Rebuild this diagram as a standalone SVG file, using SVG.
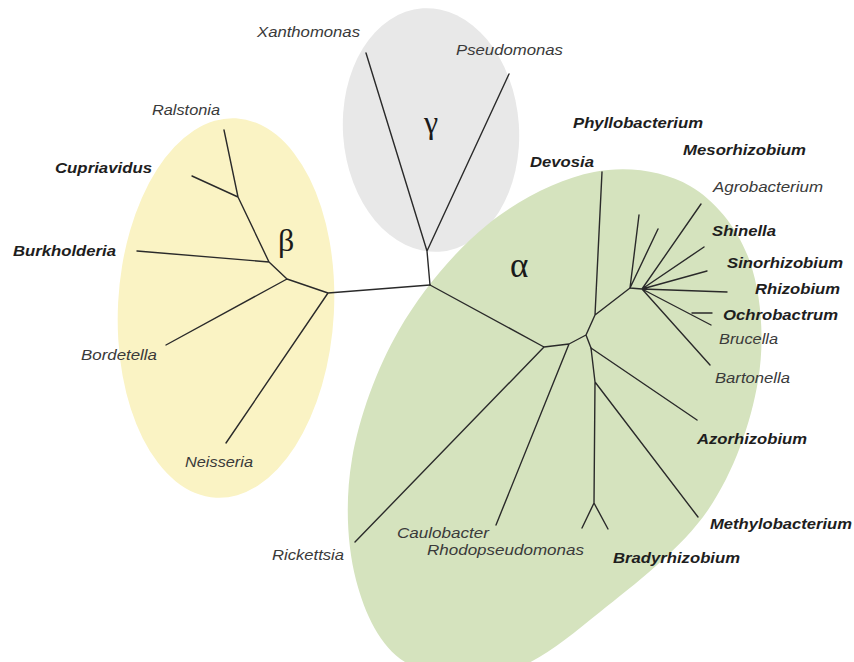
<svg xmlns="http://www.w3.org/2000/svg" width="854" height="662" viewBox="0 0 854 662">
<style>
.lbl{font-family:"Liberation Sans",Arial,sans-serif;font-size:14px;font-style:italic;fill:#3a3a3a}
.b{font-weight:bold;fill:#1e1e1e}
.gk{font-family:"Liberation Serif","Times New Roman",serif;font-size:32px;fill:#1a1a1a}
.edge{fill:none;stroke:#2a2a2a;stroke-width:1.4;stroke-linecap:round;stroke-linejoin:round}
</style>
<rect width="854" height="662" fill="#ffffff"/>
<g id="clades">
<ellipse id="beta-clade" cx="226" cy="308" rx="108" ry="190" transform="rotate(3 226 308)" fill="#FAF3C4"/>
<ellipse id="gamma-clade" cx="431" cy="130" rx="88" ry="122" transform="rotate(-4 431 130)" fill="#E8E8E8"/>
<path id="alpha-clade" fill="#D5E3BE" d="M690,186 C716,201 738.7,229.5 750,262 C761.3,294.5 765,339.7 758,381 C751,422.3 734.3,471.5 708,510 C681.7,548.5 633.8,585 600,612 C566.2,639 537.5,663.7 505,672 C472.5,680.3 429.8,677.3 405,662 C380.2,646.7 364.8,613.8 356,580 C347.2,546.2 344.8,500.7 352,459 C359.2,417.3 376.5,369 399,330 C421.5,291 454.5,251.3 487,225 C519.5,198.7 560.2,178.5 594,172 C627.8,165.5 664,171 690,186 Z"/>
</g>
<g id="connectors" class="edge">
<path d="M430,285 L427,251 M427,251 L366,53 M427,251 L509,74"/>
<path d="M430,285 L328,293 M328,293 L287,279 M328,293 L226,443 M287,279 L269,262 M287,279 L166,345 M269,262 L137,251 M269,262 L238,197 M238,197 L224,130 M238,197 L192,176"/>
<path d="M430,285 L544,347 M544,347 L355,542 M544,347 L569,344 M569,344 L496,525 M569,344 L586,335 M586,335 L595,315 M586,335 L591,348 M595,315 L602,172 M595,315 L630,288"/>
<path d="M630,288 L639,215 M630,288 L658,229 M630,288 L642,289 M642,289 L701,204 M642,289 L704,247 M642,289 L707,271 M642,289 L727,292 M642,289 L711,325 M692,313 L712,313 M642,289 L710,365"/>
<path d="M591,348 L697,420 M591,348 L595,382 M595,382 L698,517 M595,382 L594,503 M594,503 L582,528 M594,503 L608,529"/>
</g>
<g id="greek">
<text id="gamma" class="gk" x="424" y="133">γ</text>
<text id="beta" class="gk" x="278" y="251">β</text>
<text id="alpha" class="gk" x="510" y="277" style="font-size:35px">α</text>
</g>
<g id="labels">
<g id="n-xanthomonas"><text class="lbl" x="257" y="37" textLength="103" lengthAdjust="spacingAndGlyphs">Xanthomonas</text></g>
<g id="n-pseudomonas"><text class="lbl" x="456" y="55" textLength="107" lengthAdjust="spacingAndGlyphs">Pseudomonas</text></g>
<g id="n-ralstonia"><text class="lbl" x="152" y="115" textLength="68" lengthAdjust="spacingAndGlyphs">Ralstonia</text></g>
<g id="n-cupriavidus"><text class="lbl b" x="55" y="173" textLength="97" lengthAdjust="spacingAndGlyphs">Cupriavidus</text></g>
<g id="n-burkholderia"><text class="lbl b" x="13" y="256" textLength="103" lengthAdjust="spacingAndGlyphs">Burkholderia</text></g>
<g id="n-bordetella"><text class="lbl" x="81" y="360" textLength="76" lengthAdjust="spacingAndGlyphs">Bordetella</text></g>
<g id="n-neisseria"><text class="lbl" x="185" y="467" textLength="68" lengthAdjust="spacingAndGlyphs">Neisseria</text></g>
<g id="n-phyllobacterium"><text class="lbl b" x="573" y="128" textLength="130" lengthAdjust="spacingAndGlyphs">Phyllobacterium</text></g>
<g id="n-mesorhizobium"><text class="lbl b" x="683" y="155" textLength="123" lengthAdjust="spacingAndGlyphs">Mesorhizobium</text></g>
<g id="n-devosia"><text class="lbl b" x="530" y="167" textLength="64" lengthAdjust="spacingAndGlyphs">Devosia</text></g>
<g id="n-agrobacterium"><text class="lbl" x="713" y="192" textLength="110" lengthAdjust="spacingAndGlyphs">Agrobacterium</text></g>
<g id="n-shinella"><text class="lbl b" x="712" y="236" textLength="64" lengthAdjust="spacingAndGlyphs">Shinella</text></g>
<g id="n-sinorhizobium"><text class="lbl b" x="727" y="268" textLength="116" lengthAdjust="spacingAndGlyphs">Sinorhizobium</text></g>
<g id="n-rhizobium"><text class="lbl b" x="755" y="294" textLength="85" lengthAdjust="spacingAndGlyphs">Rhizobium</text></g>
<g id="n-ochrobactrum"><text class="lbl b" x="723" y="320" textLength="115" lengthAdjust="spacingAndGlyphs">Ochrobactrum</text></g>
<g id="n-brucella"><text class="lbl" x="719" y="344" textLength="59" lengthAdjust="spacingAndGlyphs">Brucella</text></g>
<g id="n-bartonella"><text class="lbl" x="715" y="383" textLength="75" lengthAdjust="spacingAndGlyphs">Bartonella</text></g>
<g id="n-azorhizobium"><text class="lbl b" x="697" y="444" textLength="110" lengthAdjust="spacingAndGlyphs">Azorhizobium</text></g>
<g id="n-methylobacterium"><text class="lbl b" x="710" y="529" textLength="142" lengthAdjust="spacingAndGlyphs">Methylobacterium</text></g>
<g id="n-bradyrhizobium"><text class="lbl b" x="613" y="563" textLength="127" lengthAdjust="spacingAndGlyphs">Bradyrhizobium</text></g>
<g id="n-rickettsia"><text class="lbl" x="272" y="560" textLength="72" lengthAdjust="spacingAndGlyphs">Rickettsia</text></g>
<g id="n-caulobacter"><text class="lbl" x="397" y="538" textLength="92" lengthAdjust="spacingAndGlyphs">Caulobacter</text></g>
<g id="n-rhodopseudomonas"><text class="lbl" x="427" y="555" textLength="157" lengthAdjust="spacingAndGlyphs">Rhodopseudomonas</text></g>
</g>
</svg>
